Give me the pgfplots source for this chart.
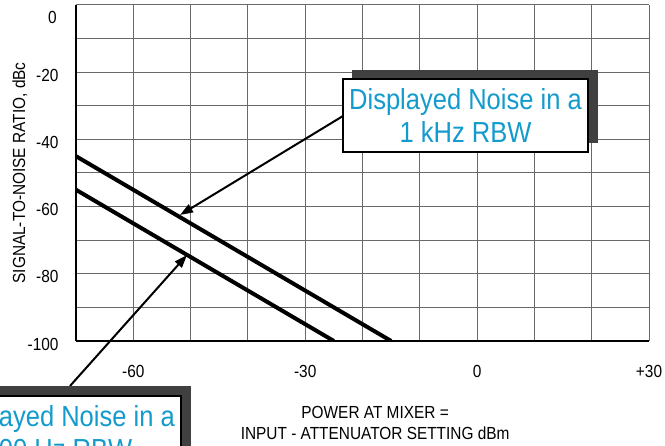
\documentclass[border=0pt]{standalone}
\usepackage{fontspec}
\setmainfont{Liberation Sans}[FakeStretch=0.88]
\usepackage{pgfplots}
\pgfplotsset{compat=1.18}
\usetikzlibrary{arrows.meta}

\definecolor{boxblue}{RGB}{20,155,205}
\definecolor{shadowgray}{RGB}{64,64,64}
\definecolor{gridgray}{RGB}{105,105,105}

\begin{document}
\begin{tikzpicture}[x=1bp,y=1bp]
  % page = 665 x 446, one unit = one pixel of the reference
  \useasboundingbox (0,0) rectangle (665,446);
  \clip (0,0) rectangle (665,446);

  \begin{axis}[
    at={(76bp,105bp)}, anchor=south west,
    width=573bp, height=336bp, scale only axis,
    xmin=-70, xmax=30,
    ymin=-100, ymax=0,
    xtick={-70,-60,...,30},
    xticklabels={,-60,,,-30,,,0,,,+30},
    ytick={-100,-90,...,0},
    yticklabels={-100,,-80,,-60,,-40,,-20,,},
    major tick length=0pt,
    grid=major,
    major grid style={gridgray, line width=1bp},
    axis x line*=bottom,
    axis y line*=left,
    axis line style={black, line width=1.5bp},
    ticklabel style={font=\fontsize{17.5bp}{21bp}\selectfont},
    xticklabel style={yshift=-21bp},
    yticklabel style={xshift=-14bp, yshift=-3bp},
    xlabel={POWER AT MIXER =\\INPUT - ATTENUATOR SETTING dBm},
    xlabel style={at={(axis description cs:0.522,-0.2426)}, anchor=center,
      align=center, font=\fontsize{17.5bp}{21bp}\selectfont},
    ylabel={SIGNAL-TO-NOISE RATIO, dBc},
    ylabel style={at={(axis description cs:-0.0977,0.5)}, anchor=center,
      font=\fontsize{17.5bp}{21bp}\selectfont},
  ]
    % displayed noise, 1 kHz RBW
    \addplot[black, line width=4bp] coordinates {(-70,-45) (-15,-100)};
    % displayed noise, 100 Hz RBW
    \addplot[black, line width=4bp] coordinates {(-70,-55) (-25,-100)};
  \end{axis}

  % top "0" label sits lower than its grid line in the reference
  \node[anchor=east, inner sep=0pt, font=\fontsize{17.5bp}{21bp}\selectfont]
    at (57,429) {0};

  % callout arrows
  \draw[line width=2bp, -{Triangle[length=13bp,width=9bp]}] (343,330) -- (180,231);
  \draw[line width=2bp, -{Triangle[length=13bp,width=9bp]}] (70,60) -- (187,191);

  % callout 1
  \fill[shadowgray] (352,303) rectangle (598,376);
  \draw[line width=1.5bp, fill=white] (343,294) rectangle (588,367);
  \node[align=center, text=boxblue, font=\fontsize{29bp}{33bp}\selectfont]
    at (465.5,330.5) {Displayed Noise in a\\1 kHz RBW};

  % callout 2 (runs off the page, as in the reference)
  \fill[shadowgray] (-55,-14) rectangle (191,60);
  \draw[line width=1.5bp, fill=white] (-64,-23) rectangle (181,50);
  \node[align=center, text=boxblue, font=\fontsize{29bp}{33bp}\selectfont]
    at (58.5,13.5) {Displayed Noise in a\\100 Hz RBW};
\end{tikzpicture}
\end{document}
